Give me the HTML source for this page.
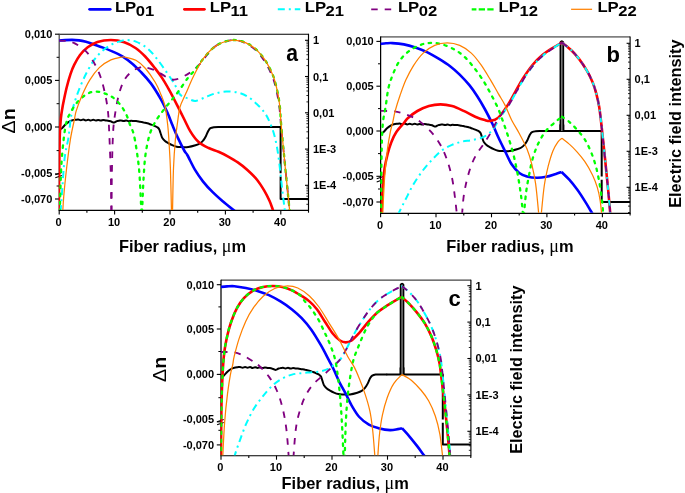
<!DOCTYPE html><html><head><meta charset="utf-8"><title>LP modes</title>
<style>html,body{margin:0;padding:0;background:#fff}svg{display:block}text{font-family:"Liberation Sans",sans-serif;font-weight:bold;fill:#000}</style></head><body>
<svg width="685" height="493" viewBox="0 0 685 493">
<rect width="685" height="493" fill="#fff"/>
<path d="M89.6,9.3H110.2" fill="none" stroke="#0000ff" stroke-width="2.8" stroke-linecap="round"/>
<text transform="translate(114.9,12.3) scale(1.100,1)" font-size="15.2">LP<tspan dy="3.6" dx="-0.5" font-size="15.1">01</tspan></text>
<path d="M184.4,9.3H204.4" fill="none" stroke="#ff0000" stroke-width="2.8" stroke-linecap="round"/>
<text transform="translate(209.7,12.3) scale(1.100,1)" font-size="15.2">LP<tspan dy="3.6" dx="-0.5" font-size="15.1">11</tspan></text>
<path d="M277.8,9.3H300.3" fill="none" stroke="#00ffff" stroke-width="2" stroke-dasharray="7 4 2 4"/>
<text transform="translate(304.8,12.3) scale(1.100,1)" font-size="15.2">LP<tspan dy="3.6" dx="-0.5" font-size="15.1">21</tspan></text>
<path d="M371.2,9.3H392.2" fill="none" stroke="#800080" stroke-width="1.85" stroke-dasharray="6.5 7"/>
<text transform="translate(397.9,12.3) scale(1.100,1)" font-size="15.2">LP<tspan dy="3.6" dx="-0.5" font-size="15.1">02</tspan></text>
<path d="M471.7,9.3H493.6" fill="none" stroke="#00ff00" stroke-width="2.2" stroke-dasharray="6.3 2.3" stroke-dashoffset="1.6"/>
<text transform="translate(498.6,12.3) scale(1.100,1)" font-size="15.2">LP<tspan dy="3.6" dx="-0.5" font-size="15.1">12</tspan></text>
<path d="M571.1,9.3H592.1" fill="none" stroke="#ff8000" stroke-width="1.25"/>
<text transform="translate(597.4,12.3) scale(1.100,1)" font-size="15.2">LP<tspan dy="3.6" dx="-0.5" font-size="15.1">22</tspan></text>
<g stroke="#000" fill="none">
<path d="M59.2,34.2H308.5" stroke="#000" stroke-width="1.1"/>
<path d="M59.2,33.7V210.4" stroke="#4a4a4a" stroke-width="1.25"/>
<path d="M58.6,210.4H308.5V33.7" stroke-width="1.15"/>
<path d="M59.2,34.2h-4.2" stroke-width="1.1"/>
<path d="M59.2,80.4h-4.2" stroke-width="1.1"/>
<path d="M59.2,127.0h-4.2" stroke-width="1.1"/>
<path d="M59.2,173.9h-4.2" stroke-width="1.1"/>
<path d="M59.2,199.0h-4.2" stroke-width="1.1"/>
<path d="M59.2,57.3h-2.6" stroke-width="1"/>
<path d="M59.2,103.7h-2.6" stroke-width="1"/>
<path d="M59.2,150.6h-2.6" stroke-width="1"/>
<path d="M59.2,186.0h-2.6" stroke-width="1"/>
<path d="M59.2,210.4v4.0" stroke-width="1.1"/>
<path d="M86.9,210.4v2.3" stroke-width="1.1"/>
<path d="M114.6,210.4v4.0" stroke-width="1.1"/>
<path d="M142.3,210.4v2.3" stroke-width="1.1"/>
<path d="M170.0,210.4v4.0" stroke-width="1.1"/>
<path d="M197.7,210.4v2.3" stroke-width="1.1"/>
<path d="M225.4,210.4v4.0" stroke-width="1.1"/>
<path d="M253.1,210.4v2.3" stroke-width="1.1"/>
<path d="M280.8,210.4v4.0" stroke-width="1.1"/>
<path d="M308.5,210.4v2.3" stroke-width="1.1"/>
<path d="M308.5,40.3h-3.5" stroke-width="1.1"/>
<path d="M308.5,76.5h-3.5" stroke-width="1.1"/>
<path d="M308.5,112.8h-3.5" stroke-width="1.1"/>
<path d="M308.5,149.1h-3.5" stroke-width="1.1"/>
<path d="M308.5,185.3h-3.5" stroke-width="1.1"/>
<path d="M308.5,65.6h-2.1" stroke-width="0.85"/>
<path d="M308.5,59.3h-2.1" stroke-width="0.85"/>
<path d="M308.5,54.7h-2.1" stroke-width="0.85"/>
<path d="M308.5,51.2h-2.1" stroke-width="0.85"/>
<path d="M308.5,48.3h-2.1" stroke-width="0.85"/>
<path d="M308.5,45.9h-2.1" stroke-width="0.85"/>
<path d="M308.5,43.8h-2.1" stroke-width="0.85"/>
<path d="M308.5,42.0h-2.1" stroke-width="0.85"/>
<path d="M308.5,101.9h-2.1" stroke-width="0.85"/>
<path d="M308.5,95.5h-2.1" stroke-width="0.85"/>
<path d="M308.5,91.0h-2.1" stroke-width="0.85"/>
<path d="M308.5,87.5h-2.1" stroke-width="0.85"/>
<path d="M308.5,84.6h-2.1" stroke-width="0.85"/>
<path d="M308.5,82.2h-2.1" stroke-width="0.85"/>
<path d="M308.5,80.1h-2.1" stroke-width="0.85"/>
<path d="M308.5,78.2h-2.1" stroke-width="0.85"/>
<path d="M308.5,138.1h-2.1" stroke-width="0.85"/>
<path d="M308.5,131.8h-2.1" stroke-width="0.85"/>
<path d="M308.5,127.2h-2.1" stroke-width="0.85"/>
<path d="M308.5,123.7h-2.1" stroke-width="0.85"/>
<path d="M308.5,120.8h-2.1" stroke-width="0.85"/>
<path d="M308.5,118.4h-2.1" stroke-width="0.85"/>
<path d="M308.5,116.3h-2.1" stroke-width="0.85"/>
<path d="M308.5,114.5h-2.1" stroke-width="0.85"/>
<path d="M308.5,174.4h-2.1" stroke-width="0.85"/>
<path d="M308.5,168.0h-2.1" stroke-width="0.85"/>
<path d="M308.5,163.5h-2.1" stroke-width="0.85"/>
<path d="M308.5,160.0h-2.1" stroke-width="0.85"/>
<path d="M308.5,157.1h-2.1" stroke-width="0.85"/>
<path d="M308.5,154.7h-2.1" stroke-width="0.85"/>
<path d="M308.5,152.6h-2.1" stroke-width="0.85"/>
<path d="M308.5,150.7h-2.1" stroke-width="0.85"/>
<path d="M308.5,204.3h-2.1" stroke-width="0.85"/>
<path d="M308.5,199.7h-2.1" stroke-width="0.85"/>
<path d="M308.5,196.2h-2.1" stroke-width="0.85"/>
<path d="M308.5,193.3h-2.1" stroke-width="0.85"/>
<path d="M308.5,190.9h-2.1" stroke-width="0.85"/>
<path d="M308.5,188.8h-2.1" stroke-width="0.85"/>
<path d="M308.5,187.0h-2.1" stroke-width="0.85"/>
<path d="M55.3,174.7l6.6,-2.3M55.3,177.8l6.6,-2.3" stroke-width="1.05"/>
</g>
<clipPath id="ca"><rect x="58.7" y="34.7" width="249.8" height="175.2"/></clipPath>
<g clip-path="url(#ca)" fill="none" stroke-linejoin="round">
<path d="M59.2,129.0C59.7,128.9 60.9,129.0 62.0,128.2C63.0,127.4 64.4,125.4 65.6,124.3C66.8,123.2 68.0,122.3 69.2,121.6C70.3,120.9 71.4,120.6 72.5,120.3C73.6,120.0 74.9,119.9 75.8,119.8C76.8,119.7 77.5,119.5 78.3,119.6C79.1,119.7 80.0,120.3 80.8,120.3C81.6,120.3 82.5,119.6 83.3,119.6C84.1,119.6 85.0,120.4 85.8,120.4C86.6,120.4 87.5,119.7 88.3,119.7C89.1,119.7 89.9,120.5 90.8,120.5C91.6,120.5 92.4,119.8 93.3,119.8C94.1,119.8 94.9,120.5 95.8,120.5C96.6,120.5 97.4,120.0 98.3,120.0C99.1,120.0 99.9,120.5 100.8,120.5C101.6,120.6 102.4,120.1 103.2,120.1C104.1,120.1 105.0,120.4 105.7,120.5C106.5,120.6 107.1,120.6 108.0,120.7C108.8,120.8 110.0,121.1 110.7,121.3C111.5,121.5 111.9,121.9 112.4,122.1C112.9,122.3 113.3,122.6 113.8,122.6C114.2,122.6 114.6,122.2 115.2,122.0C115.7,121.8 116.2,121.3 116.8,121.1C117.5,120.9 118.3,120.8 119.0,120.7C119.8,120.6 120.5,120.3 121.2,120.4C122.0,120.5 122.9,121.1 123.7,121.1C124.6,121.1 125.4,120.4 126.2,120.4C127.1,120.4 127.9,121.1 128.7,121.2C129.6,121.2 130.4,120.7 131.2,120.7C132.1,120.7 132.9,121.0 133.7,121.1C134.5,121.1 135.1,121.0 136.2,121.1C137.3,121.2 138.9,121.6 140.1,121.8C141.3,122.0 142.2,122.2 143.4,122.4C144.6,122.7 146.0,122.9 147.3,123.3C148.6,123.7 150.0,124.2 151.2,124.6C152.4,125.0 153.4,125.4 154.5,125.9C155.5,126.4 156.8,126.9 157.5,127.4C158.3,128.0 158.7,128.3 159.2,129.2C159.7,130.1 160.0,131.6 160.5,133.0C161.0,134.4 161.5,136.5 162.2,137.8C163.0,139.1 164.0,140.1 165.0,141.0C166.0,141.9 167.1,142.5 168.3,143.2C169.5,143.9 170.8,144.6 172.2,145.2C173.6,145.8 175.2,146.4 176.6,146.7C178.1,147.0 179.1,147.0 181.1,147.1C183.0,147.2 185.9,147.3 188.3,147.0C190.7,146.7 193.5,145.9 195.5,145.3C197.4,144.7 198.6,144.3 199.9,143.5C201.2,142.7 202.2,141.8 203.2,140.5C204.3,139.2 205.2,137.6 206.0,136.0C206.8,134.4 207.5,132.3 208.2,131.0C209.0,129.7 209.5,128.8 210.4,128.2C211.4,127.6 212.5,127.4 213.8,127.2C215.1,127.0 216.3,127.0 218.2,127.0C220.1,127.0 224.2,127.0 225.4,127.0" stroke="#000" stroke-width="2"/>
<path d="M225.0,127.0L280.6,127.0L280.6,199.0L310.0,199.0" stroke="#000" stroke-width="2"/>
<path d="M280.6,173.3v3.2" stroke="#fff" stroke-width="3.4"/>
<path d="M59.2,40.5C60.2,40.4 62.9,40.2 65.0,40.1C67.1,40.0 69.7,39.9 72.0,39.9C74.3,39.9 76.7,40.1 79.0,40.4C81.3,40.7 83.6,41.2 86.0,41.8C88.4,42.4 90.7,43.2 93.5,44.2C96.3,45.2 99.8,46.4 103.0,47.6C106.2,48.8 109.6,50.2 112.8,51.6C116.0,53.0 119.2,54.3 122.4,56.3C125.6,58.3 128.8,60.7 132.0,63.4C135.2,66.1 138.2,69.2 141.4,72.5C144.6,75.8 147.7,79.1 150.9,83.4C154.1,87.8 157.7,93.7 160.5,98.6C163.3,103.5 165.5,108.3 167.5,112.8C169.5,117.2 170.8,121.2 172.5,125.3C174.2,129.4 175.8,133.3 177.8,137.6C179.8,141.9 182.9,148.1 184.5,151.0C186.1,153.9 185.5,151.8 187.3,155.0C189.1,158.2 192.6,165.8 195.2,170.2C197.8,174.6 200.2,177.9 203.1,181.6C206.0,185.3 209.5,189.0 212.7,192.2C215.9,195.4 219.0,198.1 222.4,201.0C225.8,203.9 230.1,207.3 233.0,209.6C235.9,211.9 238.8,214.1 240.0,215.0" stroke="#0000ff" stroke-width="2.6"/>
<path d="M58.8,215.0C58.9,207.5 59.0,183.3 59.2,170.0C59.4,156.7 59.5,143.7 59.8,135.0C60.1,126.3 60.4,122.8 60.9,118.0C61.4,113.2 61.8,111.0 62.7,106.0C63.7,101.0 65.3,93.1 66.6,87.8C67.9,82.5 69.1,78.1 70.4,74.3C71.7,70.5 72.7,67.9 74.3,64.7C75.9,61.5 77.8,57.9 80.0,55.0C82.2,52.1 84.8,49.5 87.7,47.3C90.6,45.1 93.5,43.1 97.4,41.9C101.3,40.7 106.4,40.0 110.9,40.0C115.4,40.0 120.1,40.8 124.3,42.2C128.5,43.6 132.4,45.8 135.9,48.2C139.4,50.6 142.1,53.3 145.2,56.5C148.2,59.7 151.4,63.7 154.2,67.2C156.9,70.7 159.2,73.6 161.7,77.4C164.2,81.2 166.8,85.7 169.4,90.3C172.0,94.9 174.6,100.1 177.1,105.1C179.6,110.0 182.4,115.6 184.6,120.0C186.8,124.4 188.2,127.9 190.5,131.6C192.8,135.3 195.6,139.3 198.6,142.0C201.6,144.7 205.4,146.4 208.7,148.0C212.0,149.6 215.2,150.4 218.5,151.8C221.8,153.2 225.0,154.8 228.2,156.6C231.4,158.4 234.6,160.2 237.8,162.4C241.0,164.6 244.2,167.1 247.4,170.0C250.6,172.9 254.1,176.1 257.0,179.7C259.9,183.2 262.6,187.8 264.7,191.3C266.8,194.9 268.2,197.9 269.6,201.0C271.0,204.1 271.9,207.1 272.8,209.6C273.7,212.1 274.6,214.9 275.0,216.0" stroke="#ff0000" stroke-width="2.6"/>
<path d="M60.5,212.0C60.7,209.5 61.0,205.9 61.7,197.0C62.4,188.1 63.5,168.4 64.6,158.5C65.7,148.6 67.4,144.6 68.5,137.3C69.6,130.0 70.1,121.4 71.4,114.7C72.7,108.0 74.1,103.5 76.2,97.4C78.3,91.3 81.0,84.3 83.9,78.2C86.8,72.1 90.3,65.5 93.5,60.8C96.7,56.1 100.0,53.0 103.2,50.2C106.4,47.4 109.9,45.4 112.8,43.9C115.7,42.4 118.2,41.9 120.5,41.2C122.8,40.6 123.7,39.9 126.3,40.0C128.9,40.1 132.4,40.2 135.9,41.6C139.4,43.0 143.9,45.4 147.4,48.3C150.9,51.2 153.8,54.9 157.0,58.9C160.2,62.9 163.8,68.2 166.7,72.4C169.6,76.6 172.2,80.2 174.4,83.9C176.6,87.6 177.8,92.1 180.0,94.5C182.2,96.9 185.1,97.3 187.7,98.4C190.3,99.5 192.5,101.1 195.4,100.9C198.3,100.7 201.8,98.6 205.0,97.4C208.2,96.2 211.2,94.6 214.7,93.6C218.2,92.6 222.3,91.8 226.2,91.6C230.0,91.4 234.3,91.8 237.8,92.6C241.3,93.4 244.2,94.5 247.4,96.4C250.6,98.3 254.1,101.5 257.0,104.2C259.9,106.9 262.6,109.8 264.7,112.8C266.8,115.8 268.0,118.2 269.6,122.0C271.2,125.8 273.0,130.0 274.4,135.4C275.8,140.8 276.9,146.0 278.2,154.7C279.5,163.4 280.9,177.8 282.0,187.4C283.1,197.0 284.5,207.9 285.0,212.0" stroke="#00ffff" stroke-width="2" stroke-dasharray="7 4 2 4"/>
<path d="M59.2,40.6C60.3,40.7 63.5,40.6 66.0,41.0C68.5,41.4 71.0,41.4 74.3,43.1C77.6,44.8 82.6,48.1 85.8,51.2C89.0,54.3 91.1,57.6 93.5,61.8C95.9,66.0 98.4,70.9 100.3,76.2C102.2,81.5 103.7,87.6 105.0,93.6C106.3,99.6 107.2,104.4 108.0,112.0C108.8,119.6 109.0,128.0 109.5,139.0C110.0,150.0 110.6,165.8 110.9,178.0C111.2,190.2 111.2,206.3 111.3,212.0" stroke="#800080" stroke-width="1.85" stroke-dasharray="6.5 7"/>
<path d="M111.6,212.0C111.6,206.3 111.6,190.2 111.8,178.0C112.0,165.8 112.3,149.0 112.8,139.0C113.2,129.0 113.5,125.2 114.5,118.0C115.5,110.8 117.0,101.8 118.6,95.5C120.2,89.2 122.1,84.0 124.3,80.0C126.5,76.0 129.4,73.5 132.0,71.4C134.6,69.3 137.8,68.3 139.7,67.6C141.6,66.9 141.0,66.5 143.6,67.0C146.2,67.5 151.3,68.7 155.2,70.4C159.0,72.1 163.5,75.7 166.7,77.2C169.9,78.8 171.5,79.9 174.4,79.7C177.3,79.5 181.0,77.6 183.9,76.2C186.8,74.8 189.0,73.3 191.6,71.4C194.2,69.5 196.7,67.4 199.3,64.7C201.9,62.0 204.4,58.0 207.0,55.0C209.6,52.0 212.1,48.9 214.7,46.8C217.3,44.7 219.2,43.6 222.4,42.5C225.6,41.4 230.1,39.9 233.9,40.0C237.7,40.1 241.6,41.3 245.2,43.0C248.8,44.7 252.4,47.1 255.7,50.2C259.0,53.3 262.2,57.3 265.0,61.8C267.8,66.3 270.6,71.9 272.6,77.0C274.6,82.1 275.7,87.2 276.8,92.2C277.9,97.2 278.7,101.8 279.4,107.3C280.1,112.8 280.1,115.4 281.0,125.0C281.9,134.6 283.5,150.5 285.0,165.0C286.5,179.5 289.0,204.2 289.8,212.0" stroke="#800080" stroke-width="1.85" stroke-dasharray="6.5 7"/>
<path d="M59.8,212.0C60.0,204.7 60.6,180.2 61.2,168.0C61.9,155.8 62.8,146.7 63.7,139.0C64.6,131.3 65.4,126.4 66.5,122.0C67.6,117.6 68.5,116.2 70.4,112.8C72.3,109.3 75.2,104.5 78.1,101.3C81.0,98.1 84.7,95.2 87.7,93.6C90.8,92.0 93.5,91.6 96.4,91.6C99.3,91.6 102.3,92.6 105.0,93.6C107.7,94.6 110.2,95.5 112.8,97.4C115.4,99.3 118.2,102.1 120.5,105.0C122.8,107.9 124.7,111.4 126.3,114.7C127.9,118.0 128.8,121.5 130.1,125.0C131.4,128.4 132.7,129.8 134.0,135.4C135.3,141.0 136.9,151.4 137.8,158.5C138.8,165.6 139.1,168.9 139.7,177.8C140.3,186.7 141.1,206.3 141.4,212.0" stroke="#00ff00" stroke-width="2.3" stroke-dasharray="2.4 5.6" stroke-linecap="round"/>
<path d="M142.1,212.0C142.3,206.3 143.0,187.4 143.6,177.8C144.2,168.2 144.5,161.8 145.5,154.7C146.5,147.6 147.8,140.8 149.4,135.4C151.0,130.0 152.9,126.1 155.2,122.0C157.4,117.9 160.3,114.4 162.9,110.9C165.5,107.5 168.0,104.5 170.6,101.3C173.2,98.1 175.5,95.4 178.3,91.6C181.2,87.8 184.8,81.9 187.7,78.2C190.5,74.5 192.8,72.7 195.4,69.5C198.0,66.3 200.2,62.4 203.1,58.9C206.0,55.4 209.5,51.0 212.7,48.3C215.9,45.6 218.9,43.9 222.4,42.5C225.9,41.1 230.1,40.0 233.9,40.0C237.8,40.0 241.8,41.0 245.5,42.6C249.2,44.2 252.9,46.5 256.3,49.6C259.7,52.7 263.0,56.7 265.8,61.2C268.6,65.7 271.4,71.4 273.4,76.5C275.3,81.6 276.4,86.7 277.5,91.8C278.6,96.9 279.3,101.5 279.9,107.0C280.5,112.5 280.3,115.3 281.2,125.0C282.1,134.7 283.6,150.5 285.0,165.0C286.4,179.5 289.0,204.2 289.8,212.0" stroke="#00ff00" stroke-width="2.3" stroke-dasharray="2.4 5.6" stroke-linecap="round"/>
<path d="M62.7,212.0C62.9,209.5 63.1,204.3 63.7,197.0C64.3,189.7 65.5,177.8 66.6,168.2C67.7,158.6 69.1,147.3 70.4,139.3C71.7,131.3 73.3,124.7 74.3,120.0C75.3,115.3 74.9,115.0 76.2,110.9C77.5,106.8 79.8,100.6 82.0,95.5C84.2,90.4 86.8,84.8 89.7,80.1C92.6,75.4 95.8,71.0 99.3,67.6C102.8,64.2 107.1,61.7 110.9,59.9C114.8,58.1 120.2,57.5 122.4,57.0C124.6,56.5 122.0,56.5 124.3,57.0C126.5,57.5 132.4,58.4 135.9,60.3C139.4,62.2 142.3,64.8 145.5,68.5C148.7,72.2 152.6,78.0 155.2,82.3C157.8,86.6 159.2,90.3 160.9,94.4C162.6,98.5 164.1,101.9 165.2,107.0C166.3,112.1 167.0,118.7 167.7,125.0C168.4,131.3 168.8,137.8 169.2,145.0C169.6,152.2 170.0,157.0 170.4,168.2C170.8,179.4 171.3,204.7 171.5,212.0" stroke="#ff8000" stroke-width="1.25"/>
<path d="M172.5,212.0C172.7,204.7 173.0,180.3 173.5,168.2C174.0,156.1 174.7,147.0 175.4,139.3C176.1,131.6 176.8,127.4 177.6,122.0C178.4,116.6 178.6,111.7 180.0,107.0C181.4,102.3 183.6,98.7 185.8,93.6C188.1,88.5 190.6,82.0 193.5,76.2C196.4,70.4 199.9,63.5 203.1,58.9C206.3,54.2 209.5,51.0 212.7,48.3C215.9,45.6 218.9,43.9 222.4,42.5C225.9,41.1 230.1,40.0 233.9,40.0C237.8,40.0 241.8,41.0 245.5,42.6C249.2,44.2 252.9,46.5 256.3,49.6C259.7,52.7 263.0,56.7 265.8,61.2C268.6,65.7 271.4,71.4 273.4,76.5C275.3,81.6 276.4,86.7 277.5,91.8C278.6,96.9 279.3,101.5 279.9,107.0C280.5,112.5 280.3,115.3 281.2,125.0C282.1,134.7 283.6,150.5 285.0,165.0C286.4,179.5 289.0,204.2 289.8,212.0" stroke="#ff8000" stroke-width="1.25"/>
</g>
<text transform="translate(52.3,38.1)" font-size="11" text-anchor="end">0,010</text>
<text transform="translate(52.3,84.3)" font-size="11" text-anchor="end">0,005</text>
<text transform="translate(52.3,130.9)" font-size="11" text-anchor="end">0,000</text>
<text transform="translate(52.3,177.1)" font-size="11" text-anchor="end">-0,005</text>
<text transform="translate(52.3,202.9)" font-size="11" text-anchor="end">-0,070</text>
<text transform="translate(58.6,225.7)" font-size="11" text-anchor="middle">0</text>
<text transform="translate(114.0,225.7)" font-size="11" text-anchor="middle">10</text>
<text transform="translate(169.4,225.7)" font-size="11" text-anchor="middle">20</text>
<text transform="translate(224.8,225.7)" font-size="11" text-anchor="middle">30</text>
<text transform="translate(280.2,225.7)" font-size="11" text-anchor="middle">40</text>
<text transform="translate(313.0,44.2)" font-size="11">1</text>
<text transform="translate(313.0,80.5)" font-size="11">0,1</text>
<text transform="translate(313.0,116.7)" font-size="11">0,01</text>
<text transform="translate(313.0,153.0)" font-size="11">1E-3</text>
<text transform="translate(313.0,189.2)" font-size="11">1E-4</text>
<text transform="translate(286.2,60.6) scale(0.920,1)" font-size="23">a</text>
<text transform="translate(118.9,251.7)" font-size="16.4">Fiber radius, <tspan font-family="'Liberation Serif',serif" font-weight="normal" font-size="18">μ</tspan>m</text>
<text transform="translate(14.9,133.5) rotate(-90) scale(1.100,1)" font-size="18"><tspan font-weight="normal">Δ</tspan>n</text>
<g stroke="#000" fill="none">
<path d="M380.6,36.9H630.1" stroke="#808080" stroke-width="1.8"/>
<path d="M380.6,36.4V213.3" stroke="#000" stroke-width="1.25"/>
<path d="M380.0,213.3H630.1V36.4" stroke-width="1.15"/>
<path d="M380.6,41.4h-4.2" stroke-width="1.1"/>
<path d="M380.6,86.2h-4.2" stroke-width="1.1"/>
<path d="M380.6,131.0h-4.2" stroke-width="1.1"/>
<path d="M380.6,176.3h-4.2" stroke-width="1.1"/>
<path d="M380.6,202.0h-4.2" stroke-width="1.1"/>
<path d="M380.6,63.8h-2.6" stroke-width="1"/>
<path d="M380.6,108.6h-2.6" stroke-width="1"/>
<path d="M380.6,153.6h-2.6" stroke-width="1"/>
<path d="M380.6,189.0h-2.6" stroke-width="1"/>
<path d="M380.6,213.3v4.0" stroke-width="1.1"/>
<path d="M408.3,213.3v2.3" stroke-width="1.1"/>
<path d="M436.0,213.3v4.0" stroke-width="1.1"/>
<path d="M463.8,213.3v2.3" stroke-width="1.1"/>
<path d="M491.5,213.3v4.0" stroke-width="1.1"/>
<path d="M519.2,213.3v2.3" stroke-width="1.1"/>
<path d="M546.9,213.3v4.0" stroke-width="1.1"/>
<path d="M574.6,213.3v2.3" stroke-width="1.1"/>
<path d="M602.4,213.3v4.0" stroke-width="1.1"/>
<path d="M630.1,213.3v2.3" stroke-width="1.1"/>
<path d="M630.1,43.3h-3.5" stroke-width="1.1"/>
<path d="M630.1,79.3h-3.5" stroke-width="1.1"/>
<path d="M630.1,115.3h-3.5" stroke-width="1.1"/>
<path d="M630.1,151.3h-3.5" stroke-width="1.1"/>
<path d="M630.1,187.3h-3.5" stroke-width="1.1"/>
<path d="M630.1,68.5h-2.1" stroke-width="0.85"/>
<path d="M630.1,62.1h-2.1" stroke-width="0.85"/>
<path d="M630.1,57.6h-2.1" stroke-width="0.85"/>
<path d="M630.1,54.1h-2.1" stroke-width="0.85"/>
<path d="M630.1,51.3h-2.1" stroke-width="0.85"/>
<path d="M630.1,48.9h-2.1" stroke-width="0.85"/>
<path d="M630.1,46.8h-2.1" stroke-width="0.85"/>
<path d="M630.1,44.9h-2.1" stroke-width="0.85"/>
<path d="M630.1,104.5h-2.1" stroke-width="0.85"/>
<path d="M630.1,98.1h-2.1" stroke-width="0.85"/>
<path d="M630.1,93.6h-2.1" stroke-width="0.85"/>
<path d="M630.1,90.1h-2.1" stroke-width="0.85"/>
<path d="M630.1,87.3h-2.1" stroke-width="0.85"/>
<path d="M630.1,84.9h-2.1" stroke-width="0.85"/>
<path d="M630.1,82.8h-2.1" stroke-width="0.85"/>
<path d="M630.1,80.9h-2.1" stroke-width="0.85"/>
<path d="M630.1,140.5h-2.1" stroke-width="0.85"/>
<path d="M630.1,134.1h-2.1" stroke-width="0.85"/>
<path d="M630.1,129.6h-2.1" stroke-width="0.85"/>
<path d="M630.1,126.1h-2.1" stroke-width="0.85"/>
<path d="M630.1,123.3h-2.1" stroke-width="0.85"/>
<path d="M630.1,120.9h-2.1" stroke-width="0.85"/>
<path d="M630.1,118.8h-2.1" stroke-width="0.85"/>
<path d="M630.1,116.9h-2.1" stroke-width="0.85"/>
<path d="M630.1,176.5h-2.1" stroke-width="0.85"/>
<path d="M630.1,170.1h-2.1" stroke-width="0.85"/>
<path d="M630.1,165.6h-2.1" stroke-width="0.85"/>
<path d="M630.1,162.1h-2.1" stroke-width="0.85"/>
<path d="M630.1,159.3h-2.1" stroke-width="0.85"/>
<path d="M630.1,156.9h-2.1" stroke-width="0.85"/>
<path d="M630.1,154.8h-2.1" stroke-width="0.85"/>
<path d="M630.1,152.9h-2.1" stroke-width="0.85"/>
<path d="M630.1,212.5h-2.1" stroke-width="0.85"/>
<path d="M630.1,206.1h-2.1" stroke-width="0.85"/>
<path d="M630.1,201.6h-2.1" stroke-width="0.85"/>
<path d="M630.1,198.1h-2.1" stroke-width="0.85"/>
<path d="M630.1,195.3h-2.1" stroke-width="0.85"/>
<path d="M630.1,192.9h-2.1" stroke-width="0.85"/>
<path d="M630.1,190.8h-2.1" stroke-width="0.85"/>
<path d="M630.1,188.9h-2.1" stroke-width="0.85"/>
<path d="M376.7,178.8l6.6,-2.3M376.7,181.9l6.6,-2.3" stroke-width="1.05"/>
</g>
<clipPath id="cb"><rect x="380.1" y="37.4" width="250.0" height="175.4"/></clipPath>
<g clip-path="url(#cb)" fill="none" stroke-linejoin="round">
<path d="M380.6,133.0C381.1,132.9 382.3,133.0 383.4,132.2C384.4,131.4 385.8,129.4 387.0,128.3C388.2,127.2 389.4,126.3 390.6,125.6C391.7,124.9 392.8,124.6 393.9,124.3C395.0,124.0 396.3,123.9 397.2,123.8C398.2,123.7 398.9,123.5 399.7,123.6C400.6,123.7 401.4,124.3 402.2,124.3C403.1,124.3 403.9,123.6 404.7,123.6C405.5,123.6 406.4,124.4 407.2,124.4C408.0,124.4 408.9,123.7 409.7,123.7C410.5,123.7 411.4,124.5 412.2,124.5C413.0,124.5 413.9,123.8 414.7,123.8C415.5,123.8 416.4,124.5 417.2,124.5C418.0,124.5 418.9,124.0 419.7,124.0C420.5,124.0 421.3,124.5 422.2,124.5C423.0,124.6 423.8,124.1 424.7,124.1C425.5,124.1 426.4,124.4 427.2,124.5C428.0,124.6 428.6,124.6 429.4,124.7C430.2,124.8 431.4,125.1 432.2,125.3C432.9,125.5 433.3,125.9 433.8,126.1C434.3,126.3 434.7,126.6 435.2,126.6C435.7,126.6 436.1,126.2 436.6,126.0C437.1,125.8 437.6,125.3 438.3,125.1C438.9,124.9 439.7,124.8 440.5,124.7C441.2,124.6 441.9,124.3 442.7,124.4C443.5,124.5 444.4,125.1 445.2,125.1C446.0,125.1 446.9,124.4 447.7,124.4C448.5,124.4 449.3,125.1 450.2,125.2C451.0,125.2 451.8,124.7 452.7,124.7C453.5,124.7 454.3,125.0 455.2,125.1C456.0,125.1 456.6,125.0 457.7,125.1C458.7,125.2 460.3,125.6 461.5,125.8C462.7,126.0 463.7,126.2 464.9,126.4C466.1,126.7 467.5,126.9 468.7,127.3C470.0,127.7 471.4,128.2 472.6,128.6C473.8,129.0 474.9,129.4 476.0,129.9C477.0,130.4 478.2,130.9 479.0,131.4C479.8,131.9 480.2,132.3 480.7,133.2C481.2,134.1 481.4,135.6 481.9,137.0C482.5,138.4 483.0,140.5 483.7,141.8C484.5,143.1 485.5,144.1 486.5,145.0C487.5,145.9 488.6,146.5 489.8,147.2C491.0,147.9 492.3,148.6 493.7,149.2C495.1,149.8 496.7,150.4 498.1,150.7C499.6,151.0 500.6,151.0 502.6,151.1C504.5,151.2 507.4,151.3 509.8,151.0C512.2,150.7 515.0,149.9 517.0,149.3C518.9,148.7 520.1,148.3 521.4,147.5C522.7,146.7 523.7,145.8 524.7,144.5C525.8,143.2 526.7,141.6 527.5,140.0C528.3,138.4 529.0,136.3 529.7,135.0C530.5,133.7 531.0,132.8 532.0,132.2C532.9,131.6 534.0,131.3 535.3,131.2C536.6,131.0 537.8,131.0 539.7,131.0C541.7,131.0 545.7,131.0 546.9,131.0" stroke="#000" stroke-width="2"/>
<path d="M546.5,131.0L560.4,131.0L560.4,125.0L560.4,131.0L563.3,131.0L563.3,125.0L563.3,131.0L601.7,131.0L601.7,201.9L632.0,201.9" stroke="#000" stroke-width="2"/>
<path d="M560.4,131.0V41.0H563.3V131.0Z" fill="#9a9a9a" stroke="none"/>
<path d="M560.4,131.0V42.2Q561.8,39.8 563.3,42.2V131.0" stroke="#000" stroke-width="1.7"/>
<path d="M601.7,176.6v3.2" stroke="#fff" stroke-width="3.4"/>
<path d="M380.6,43.9C381.5,43.8 384.1,43.4 386.0,43.3C387.9,43.2 389.3,42.9 392.3,43.1C395.3,43.3 400.0,43.7 403.9,44.4C407.8,45.1 411.5,46.2 415.4,47.5C419.2,48.8 423.1,50.3 427.0,52.2C430.9,54.1 434.8,56.4 438.6,58.7C442.5,61.1 446.6,63.6 450.1,66.3C453.6,69.0 456.5,71.5 459.7,74.7C462.9,77.9 466.5,81.7 469.4,85.2C472.3,88.8 474.5,92.0 477.1,96.0C479.7,100.0 482.2,104.3 484.8,109.0C487.4,113.7 490.2,119.3 492.5,124.0C494.8,128.7 496.1,132.5 498.3,137.3C500.5,142.1 503.6,148.2 505.8,152.7C508.0,157.2 509.4,160.9 511.6,164.3C513.9,167.7 516.7,171.0 519.3,173.0C521.9,175.0 524.1,175.6 527.0,176.4C529.9,177.2 533.4,177.7 536.6,177.8C539.8,177.9 543.0,177.5 546.2,176.8C549.4,176.2 553.3,174.7 555.9,173.9C558.5,173.1 560.6,172.3 561.6,172.0" stroke="#0000ff" stroke-width="2.6"/>
<path d="M561.6,172.0C562.9,173.3 566.7,176.8 569.3,179.7C571.9,182.6 574.4,185.8 577.0,189.3C579.6,192.8 582.5,197.4 584.7,200.9C587.0,204.4 589.0,208.0 590.5,210.5C592.0,213.0 593.4,215.1 594.0,216.0" stroke="#0000ff" stroke-width="2.6"/>
<path d="M381.5,215.0C381.7,210.4 382.2,195.2 382.7,187.4C383.2,179.6 383.8,173.7 384.6,168.2C385.4,162.7 386.4,158.9 387.5,154.5C388.6,150.1 389.9,145.7 391.4,142.0C392.8,138.3 394.1,135.5 396.2,132.3C398.3,129.1 402.0,125.3 403.9,123.0C405.8,120.7 405.4,120.3 407.7,118.3C409.9,116.3 413.9,113.0 417.4,111.0C420.9,109.0 425.0,107.1 428.9,106.0C432.8,104.9 436.6,104.4 440.5,104.4C444.4,104.4 448.1,105.0 452.0,106.1C455.9,107.2 459.7,109.1 463.6,110.9C467.5,112.7 471.7,115.2 475.2,116.7C478.7,118.2 482.2,119.4 484.8,120.1C487.4,120.8 488.4,121.3 490.6,120.9C492.9,120.5 495.5,120.2 498.3,117.6C501.1,115.0 504.9,109.4 507.7,105.1C510.5,100.8 512.8,96.1 515.4,91.6C518.0,87.1 520.2,82.7 523.1,78.2C526.0,73.7 529.5,68.6 532.7,64.7C535.9,60.8 539.2,57.7 542.4,55.0C545.6,52.3 548.7,50.4 552.0,48.3C555.3,46.2 560.3,43.5 562.0,42.5" stroke="#ff0000" stroke-width="2.6"/>
<path d="M562.0,42.5C563.5,43.8 568.5,47.5 571.3,50.2C574.1,52.9 576.4,55.5 579.0,58.9C581.6,62.3 584.5,66.6 586.7,70.4C589.0,74.2 590.9,78.1 592.5,82.0C594.1,85.9 595.2,89.4 596.3,93.6C597.4,97.8 598.4,102.3 599.2,107.0C600.0,111.7 600.1,113.4 601.1,122.0C602.1,130.6 603.9,147.6 605.0,158.5C606.1,169.4 607.0,178.0 607.9,187.4C608.8,196.8 610.0,210.4 610.4,215.0" stroke="#ff0000" stroke-width="2.6"/>
<path d="M398.0,215.0C398.3,214.2 398.7,213.2 400.0,210.5C401.3,207.8 403.6,203.4 405.8,199.0C408.1,194.6 410.6,189.0 413.5,184.2C416.4,179.4 420.0,174.2 423.2,170.0C426.4,165.8 429.6,162.3 432.8,159.0C436.0,155.7 439.2,152.3 442.4,150.0C445.6,147.7 448.8,146.3 452.0,144.9C455.2,143.5 458.5,142.5 461.7,141.7C464.9,140.9 468.1,140.8 471.3,140.2C474.5,139.6 478.3,138.9 480.9,138.0C483.5,137.1 485.2,136.2 487.0,135.0C488.8,133.8 490.1,132.6 491.5,131.0C492.9,129.4 494.2,127.6 495.5,125.5C496.8,123.4 497.3,121.7 499.5,118.3C501.7,114.9 505.8,109.7 508.6,105.3C511.4,100.9 513.7,96.4 516.3,91.9C518.9,87.4 521.1,83.0 524.0,78.5C526.9,74.0 530.3,68.9 533.5,65.1C536.7,61.3 539.9,58.2 543.0,55.5C546.1,52.8 549.2,50.9 552.4,48.7C555.6,46.5 560.4,43.5 562.0,42.5" stroke="#00ffff" stroke-width="2" stroke-dasharray="7 4 2 4"/>
<path d="M562.0,42.5C563.5,43.8 568.5,47.5 571.3,50.2C574.1,52.9 576.4,55.5 579.0,58.9C581.6,62.3 584.5,66.6 586.7,70.4C589.0,74.2 590.9,78.1 592.5,82.0C594.1,85.9 595.2,89.4 596.3,93.6C597.4,97.8 598.4,102.3 599.2,107.0C600.0,111.7 600.1,113.4 601.1,122.0C602.1,130.6 603.9,147.6 605.0,158.5C606.1,169.4 607.0,178.0 607.9,187.4C608.8,196.8 610.0,210.4 610.4,215.0" stroke="#00ffff" stroke-width="2" stroke-dasharray="7 4 2 4"/>
<path d="M380.6,110.9C382.9,111.0 390.4,110.8 394.3,111.3C398.2,111.8 400.7,112.8 403.9,113.8C407.1,114.8 410.8,116.2 413.5,117.6C416.2,118.9 417.4,119.6 420.3,121.9C423.2,124.2 427.5,127.8 430.9,131.6C434.3,135.4 437.8,140.2 440.5,145.0C443.2,149.8 445.3,154.9 447.2,160.4C449.1,165.9 450.7,171.7 452.0,177.8C453.3,183.9 454.1,190.8 454.9,197.0C455.7,203.2 456.6,212.0 457.0,215.0" stroke="#800080" stroke-width="1.85" stroke-dasharray="6.5 7"/>
<path d="M462.0,215.0C462.3,212.0 462.9,202.6 463.6,197.0C464.4,191.4 465.4,186.4 466.5,181.6C467.6,176.8 468.9,172.4 470.3,168.2C471.8,164.0 473.1,160.5 475.2,156.6C477.3,152.7 480.3,148.9 482.9,145.0C485.5,141.1 488.0,137.4 490.6,133.0C493.2,128.6 495.3,123.1 498.3,118.5C501.3,113.9 505.6,109.7 508.6,105.3C511.6,100.9 513.7,96.4 516.3,91.9C518.9,87.4 521.1,83.0 524.0,78.5C526.9,74.0 530.3,68.9 533.5,65.1C536.7,61.3 539.9,58.2 543.0,55.5C546.1,52.8 549.2,50.9 552.4,48.7C555.6,46.5 560.4,43.5 562.0,42.5" stroke="#800080" stroke-width="1.85" stroke-dasharray="6.5 7"/>
<path d="M562.0,42.5C563.5,43.8 568.5,47.5 571.3,50.2C574.1,52.9 576.4,55.5 579.0,58.9C581.6,62.3 584.5,66.6 586.7,70.4C589.0,74.2 590.9,78.1 592.5,82.0C594.1,85.9 595.2,89.4 596.3,93.6C597.4,97.8 598.4,102.3 599.2,107.0C600.0,111.7 600.1,113.4 601.1,122.0C602.1,130.6 603.9,147.6 605.0,158.5C606.1,169.4 607.0,178.0 607.9,187.4C608.8,196.8 610.0,210.4 610.4,215.0" stroke="#800080" stroke-width="1.85" stroke-dasharray="6.5 7"/>
<path d="M381.2,215.0C381.2,205.6 381.2,173.5 381.5,158.5C381.8,143.5 382.0,133.6 382.7,125.0C383.4,116.4 384.6,113.2 385.6,107.0C386.6,100.8 387.2,93.4 388.5,87.8C389.8,82.2 391.4,78.0 393.3,73.4C395.2,68.8 397.3,64.1 400.0,60.3C402.7,56.5 406.2,53.2 409.7,50.6C413.2,48.0 417.7,46.0 421.2,44.7C424.7,43.4 427.4,43.0 430.9,42.9C434.4,42.8 438.5,43.3 442.4,44.4C446.2,45.5 450.5,47.4 454.0,49.3C457.5,51.2 460.4,53.1 463.6,56.0C466.8,58.9 470.0,62.6 473.2,66.6C476.4,70.6 480.0,75.6 482.9,80.1C485.8,84.6 488.0,88.8 490.6,93.6C493.2,98.4 496.1,103.9 498.3,109.0C500.5,114.1 502.0,118.6 503.9,124.0C505.8,129.4 507.9,135.4 509.6,141.2C511.4,146.9 513.0,152.4 514.4,158.5C515.8,164.6 517.2,171.4 518.3,177.8C519.4,184.2 520.4,190.8 521.2,197.0C522.0,203.2 522.7,212.0 523.0,215.0" stroke="#00ff00" stroke-width="2.3" stroke-dasharray="2.4 5.6" stroke-linecap="round"/>
<path d="M523.9,215.0C524.2,211.4 525.2,199.7 526.0,193.2C526.8,186.7 527.8,181.7 528.9,175.9C530.0,170.1 531.1,164.0 532.7,158.5C534.3,153.0 536.2,147.8 538.5,143.1C540.8,138.4 543.3,134.2 546.2,130.6C549.1,127.0 553.3,123.8 555.9,121.5C558.5,119.2 561.0,117.5 562.0,116.7" stroke="#00ff00" stroke-width="2.3" stroke-dasharray="2.4 5.6" stroke-linecap="round"/>
<path d="M562.0,116.7C563.2,117.6 566.8,119.8 569.3,121.9C571.8,124.1 574.4,126.7 577.0,129.6C579.6,132.5 582.5,135.8 584.7,139.3C587.0,142.8 588.7,146.6 590.5,150.8C592.3,155.0 593.8,159.2 595.3,164.3C596.8,169.4 598.1,175.5 599.2,181.6C600.3,187.7 601.4,195.3 602.1,200.9C602.8,206.5 603.0,212.7 603.2,215.0" stroke="#00ff00" stroke-width="2.3" stroke-dasharray="2.4 5.6" stroke-linecap="round"/>
<path d="M382.7,215.0C383.0,208.8 383.8,188.8 384.6,177.8C385.4,166.8 386.5,156.6 387.5,148.9C388.5,141.2 389.5,136.1 390.4,131.6C391.3,127.1 392.0,125.5 392.8,122.0C393.6,118.5 394.0,115.3 395.2,110.9C396.4,106.5 398.2,100.6 400.0,95.5C401.8,90.4 403.6,85.1 405.8,80.1C408.1,75.1 410.6,70.1 413.5,65.6C416.4,61.1 419.7,56.5 423.2,53.1C426.7,49.7 430.7,47.1 434.7,45.4C438.7,43.7 443.0,42.9 447.2,42.9C451.4,42.9 455.7,43.7 459.7,45.4C463.7,47.1 467.8,49.9 471.3,53.1C474.8,56.3 477.7,60.2 480.9,64.7C484.1,69.2 487.7,75.3 490.6,80.1C493.5,84.9 495.9,89.4 498.3,93.6C500.7,97.8 502.8,100.7 505.0,105.1C507.2,109.5 509.2,115.3 511.6,120.0C514.0,124.7 516.7,128.7 519.3,133.5C521.9,138.3 524.9,143.8 527.0,148.9C529.1,154.0 530.4,158.5 531.8,164.3C533.2,170.1 534.4,175.2 535.6,183.6C536.8,192.0 538.3,209.8 538.8,215.0" stroke="#ff8000" stroke-width="1.25"/>
<path d="M541.2,215.0C541.7,210.1 543.1,193.6 544.3,185.5C545.5,177.4 546.8,172.0 548.2,166.2C549.7,160.4 551.4,154.8 553.0,150.8C554.6,146.8 556.3,144.2 557.8,142.1C559.3,140.0 561.3,138.9 562.0,138.3" stroke="#ff8000" stroke-width="1.25"/>
<path d="M562.0,138.3C563.2,139.3 566.8,141.8 569.3,144.1C571.8,146.3 574.4,148.9 577.0,151.8C579.6,154.7 582.1,157.6 584.7,161.4C587.3,165.2 590.4,170.6 592.5,174.9C594.6,179.2 596.0,183.1 597.3,187.4C598.6,191.7 599.5,196.3 600.2,200.9C600.9,205.5 601.5,212.7 601.7,215.0" stroke="#ff8000" stroke-width="1.25"/>
</g>
<text transform="translate(373.7,45.3)" font-size="11" text-anchor="end">0,010</text>
<text transform="translate(373.7,90.1)" font-size="11" text-anchor="end">0,005</text>
<text transform="translate(373.7,134.9)" font-size="11" text-anchor="end">0,000</text>
<text transform="translate(373.7,179.7)" font-size="11" text-anchor="end">-0,005</text>
<text transform="translate(373.7,205.9)" font-size="11" text-anchor="end">-0,070</text>
<text transform="translate(380.0,228.6)" font-size="11" text-anchor="middle">0</text>
<text transform="translate(435.4,228.6)" font-size="11" text-anchor="middle">10</text>
<text transform="translate(490.9,228.6)" font-size="11" text-anchor="middle">20</text>
<text transform="translate(546.3,228.6)" font-size="11" text-anchor="middle">30</text>
<text transform="translate(601.8,228.6)" font-size="11" text-anchor="middle">40</text>
<text transform="translate(634.6,47.2)" font-size="11">1</text>
<text transform="translate(634.6,83.2)" font-size="11">0,1</text>
<text transform="translate(634.6,119.2)" font-size="11">0,01</text>
<text transform="translate(634.6,155.2)" font-size="11">1E-3</text>
<text transform="translate(634.6,191.2)" font-size="11">1E-4</text>
<text transform="translate(606.5,61.6)" font-size="22">b</text>
<text transform="translate(446.3,251.7)" font-size="16.4">Fiber radius, <tspan font-family="'Liberation Serif',serif" font-weight="normal" font-size="18">μ</tspan>m</text>
<text transform="translate(680.6,123.7) rotate(-90)" font-size="16.3" text-anchor="middle">Electric field intensity</text>
<g stroke="#000" fill="none">
<path d="M221.0,280.2H470.9" stroke="#444" stroke-width="1.2"/>
<path d="M221.0,279.7V455.7" stroke="#000" stroke-width="1.25"/>
<path d="M220.4,455.7H470.9V279.7" stroke-width="1.15"/>
<path d="M221.0,284.7h-4.2" stroke-width="1.1"/>
<path d="M221.0,329.0h-4.2" stroke-width="1.1"/>
<path d="M221.0,374.4h-4.2" stroke-width="1.1"/>
<path d="M221.0,421.8h-4.2" stroke-width="1.1"/>
<path d="M221.0,444.9h-4.2" stroke-width="1.1"/>
<path d="M221.0,306.9h-2.6" stroke-width="1"/>
<path d="M221.0,351.5h-2.6" stroke-width="1"/>
<path d="M221.0,397.7h-2.6" stroke-width="1"/>
<path d="M221.0,430.3h-2.6" stroke-width="1"/>
<path d="M221.0,455.7v4.0" stroke-width="1.1"/>
<path d="M248.8,455.7v2.3" stroke-width="1.1"/>
<path d="M276.5,455.7v4.0" stroke-width="1.1"/>
<path d="M304.2,455.7v2.3" stroke-width="1.1"/>
<path d="M332.0,455.7v4.0" stroke-width="1.1"/>
<path d="M359.8,455.7v2.3" stroke-width="1.1"/>
<path d="M387.5,455.7v4.0" stroke-width="1.1"/>
<path d="M415.2,455.7v2.3" stroke-width="1.1"/>
<path d="M443.0,455.7v4.0" stroke-width="1.1"/>
<path d="M470.8,455.7v2.3" stroke-width="1.1"/>
<path d="M470.9,285.7h-3.5" stroke-width="1.1"/>
<path d="M470.9,322.1h-3.5" stroke-width="1.1"/>
<path d="M470.9,358.5h-3.5" stroke-width="1.1"/>
<path d="M470.9,394.9h-3.5" stroke-width="1.1"/>
<path d="M470.9,431.3h-3.5" stroke-width="1.1"/>
<path d="M470.9,311.1h-2.1" stroke-width="0.85"/>
<path d="M470.9,304.7h-2.1" stroke-width="0.85"/>
<path d="M470.9,300.2h-2.1" stroke-width="0.85"/>
<path d="M470.9,296.7h-2.1" stroke-width="0.85"/>
<path d="M470.9,293.8h-2.1" stroke-width="0.85"/>
<path d="M470.9,291.3h-2.1" stroke-width="0.85"/>
<path d="M470.9,289.2h-2.1" stroke-width="0.85"/>
<path d="M470.9,287.4h-2.1" stroke-width="0.85"/>
<path d="M470.9,347.5h-2.1" stroke-width="0.85"/>
<path d="M470.9,341.1h-2.1" stroke-width="0.85"/>
<path d="M470.9,336.6h-2.1" stroke-width="0.85"/>
<path d="M470.9,333.1h-2.1" stroke-width="0.85"/>
<path d="M470.9,330.2h-2.1" stroke-width="0.85"/>
<path d="M470.9,327.7h-2.1" stroke-width="0.85"/>
<path d="M470.9,325.6h-2.1" stroke-width="0.85"/>
<path d="M470.9,323.8h-2.1" stroke-width="0.85"/>
<path d="M470.9,383.9h-2.1" stroke-width="0.85"/>
<path d="M470.9,377.5h-2.1" stroke-width="0.85"/>
<path d="M470.9,373.0h-2.1" stroke-width="0.85"/>
<path d="M470.9,369.5h-2.1" stroke-width="0.85"/>
<path d="M470.9,366.6h-2.1" stroke-width="0.85"/>
<path d="M470.9,364.1h-2.1" stroke-width="0.85"/>
<path d="M470.9,362.0h-2.1" stroke-width="0.85"/>
<path d="M470.9,360.2h-2.1" stroke-width="0.85"/>
<path d="M470.9,420.3h-2.1" stroke-width="0.85"/>
<path d="M470.9,413.9h-2.1" stroke-width="0.85"/>
<path d="M470.9,409.4h-2.1" stroke-width="0.85"/>
<path d="M470.9,405.9h-2.1" stroke-width="0.85"/>
<path d="M470.9,403.0h-2.1" stroke-width="0.85"/>
<path d="M470.9,400.5h-2.1" stroke-width="0.85"/>
<path d="M470.9,398.4h-2.1" stroke-width="0.85"/>
<path d="M470.9,396.6h-2.1" stroke-width="0.85"/>
<path d="M470.9,450.3h-2.1" stroke-width="0.85"/>
<path d="M470.9,445.8h-2.1" stroke-width="0.85"/>
<path d="M470.9,442.3h-2.1" stroke-width="0.85"/>
<path d="M470.9,439.4h-2.1" stroke-width="0.85"/>
<path d="M470.9,436.9h-2.1" stroke-width="0.85"/>
<path d="M470.9,434.8h-2.1" stroke-width="0.85"/>
<path d="M470.9,433.0h-2.1" stroke-width="0.85"/>
<path d="M217.1,421.7l6.6,-2.3M217.1,424.8l6.6,-2.3" stroke-width="1.05"/>
</g>
<clipPath id="cc"><rect x="220.5" y="280.7" width="250.4" height="174.5"/></clipPath>
<g clip-path="url(#cc)" fill="none" stroke-linejoin="round">
<path d="M221.0,376.4C221.5,376.3 222.7,376.4 223.8,375.6C224.8,374.8 226.2,372.8 227.4,371.7C228.6,370.6 229.8,369.7 231.0,369.0C232.1,368.3 233.2,368.0 234.3,367.7C235.4,367.4 236.7,367.3 237.6,367.2C238.6,367.1 239.3,366.9 240.1,367.0C240.9,367.1 241.8,367.7 242.6,367.7C243.4,367.7 244.3,367.0 245.1,367.0C245.9,367.0 246.8,367.8 247.6,367.8C248.4,367.8 249.3,367.1 250.1,367.1C250.9,367.1 251.7,367.9 252.6,367.9C253.4,367.9 254.2,367.2 255.1,367.2C255.9,367.2 256.7,367.9 257.6,367.9C258.4,367.9 259.2,367.4 260.1,367.4C260.9,367.4 261.7,367.9 262.6,367.9C263.4,368.0 264.2,367.5 265.0,367.5C265.9,367.5 266.8,367.8 267.5,367.9C268.3,368.0 268.9,368.0 269.8,368.1C270.6,368.2 271.8,368.5 272.5,368.7C273.3,368.9 273.7,369.3 274.2,369.5C274.7,369.7 275.1,370.0 275.6,370.0C276.0,370.0 276.4,369.6 277.0,369.4C277.5,369.1 278.0,368.7 278.6,368.5C279.3,368.3 280.1,368.2 280.8,368.1C281.6,368.0 282.3,367.7 283.0,367.8C283.8,367.9 284.7,368.5 285.5,368.5C286.4,368.5 287.2,367.8 288.0,367.8C288.9,367.8 289.7,368.5 290.5,368.6C291.4,368.6 292.2,368.1 293.0,368.1C293.9,368.1 294.7,368.4 295.5,368.5C296.3,368.5 296.9,368.4 298.0,368.5C299.1,368.6 300.7,369.0 301.9,369.2C303.1,369.4 304.0,369.5 305.2,369.8C306.4,370.0 307.8,370.3 309.1,370.7C310.4,371.1 311.8,371.6 313.0,372.0C314.2,372.4 315.2,372.8 316.3,373.3C317.3,373.8 318.6,374.2 319.3,374.8C320.1,375.3 320.5,375.7 321.0,376.6C321.5,377.5 321.8,379.0 322.3,380.4C322.8,381.8 323.3,383.9 324.0,385.2C324.8,386.5 325.8,387.5 326.8,388.4C327.8,389.3 328.9,389.9 330.1,390.6C331.3,391.3 332.6,392.0 334.0,392.6C335.4,393.2 337.0,393.8 338.4,394.1C339.9,394.4 340.9,394.4 342.9,394.5C344.8,394.6 347.7,394.7 350.1,394.4C352.5,394.1 355.3,393.3 357.3,392.7C359.2,392.1 360.4,391.7 361.7,390.9C363.0,390.1 364.0,389.1 365.0,387.9C366.1,386.6 367.0,385.0 367.8,383.4C368.6,381.8 369.3,379.7 370.0,378.4C370.8,377.1 371.3,376.2 372.2,375.6C373.2,375.0 374.3,374.7 375.6,374.5C376.9,374.3 378.1,374.4 380.0,374.4C381.9,374.4 386.0,374.4 387.2,374.4" stroke="#000" stroke-width="2"/>
<path d="M386.5,374.4L400.6,374.4L400.6,368.0L400.6,374.4L403.5,374.4L403.5,368.0L403.5,374.4L442.8,374.4L442.8,444.5L473.0,444.5" stroke="#000" stroke-width="2"/>
<path d="M400.6,374.4V283.5H403.5V374.4Z" fill="#9a9a9a" stroke="none"/>
<path d="M400.6,374.4V284.7Q402.1,282.3 403.5,284.7V374.4" stroke="#000" stroke-width="1.7"/>
<path d="M442.8,419.6v3.2" stroke="#fff" stroke-width="3.4"/>
<path d="M221.0,286.9C222.0,286.8 224.8,286.5 227.0,286.4C229.2,286.3 231.2,285.9 234.3,286.2C237.4,286.5 242.0,287.3 245.8,288.1C249.7,288.9 253.5,289.7 257.4,290.9C261.2,292.1 265.0,293.4 268.9,295.1C272.8,296.9 276.6,299.0 280.5,301.4C284.4,303.8 288.5,306.6 292.0,309.4C295.5,312.2 298.5,314.8 301.7,318.2C304.9,321.6 308.1,325.2 311.3,329.7C314.5,334.2 318.0,340.2 320.9,345.2C323.8,350.2 326.5,355.7 328.6,359.7C330.7,363.7 331.6,365.1 333.5,369.0C335.4,372.9 337.9,379.2 340.0,383.3C342.1,387.4 343.9,390.2 345.8,393.9C347.7,397.6 349.4,401.5 351.6,405.4C353.9,409.2 356.4,413.8 359.3,417.0C362.2,420.2 365.7,422.8 368.9,424.7C372.1,426.6 375.0,427.3 378.5,428.2C382.0,429.1 386.9,430.0 390.1,430.1C393.3,430.2 395.8,429.4 397.8,429.1C399.8,428.8 401.3,428.4 402.0,428.2" stroke="#0000ff" stroke-width="2.6"/>
<path d="M402.0,428.2C403.2,429.6 406.8,433.4 409.3,436.3C411.8,439.2 414.6,442.8 417.0,445.9C419.4,449.0 422.1,452.8 423.8,455.1C425.5,457.5 426.5,459.2 427.0,460.0" stroke="#0000ff" stroke-width="2.6"/>
<path d="M221.0,458.0C221.1,448.9 221.2,417.2 221.5,403.5C221.8,389.8 222.1,384.4 222.5,376.0C222.9,367.6 223.4,359.9 224.2,353.0C225.0,346.1 226.3,340.0 227.5,334.7C228.7,329.4 229.8,325.7 231.4,321.2C233.0,316.7 235.1,311.5 237.2,307.7C239.3,303.9 241.2,301.0 243.9,298.1C246.6,295.2 250.3,292.3 253.5,290.4C256.7,288.5 260.0,287.6 263.2,286.9C266.4,286.2 269.6,286.0 272.8,286.0C276.0,286.0 279.2,286.2 282.4,286.9C285.6,287.6 288.8,288.9 292.0,290.4C295.2,291.9 298.8,294.2 301.7,296.0C304.6,297.8 306.8,299.1 309.4,301.4C312.0,303.6 314.5,306.1 317.1,309.5C319.7,312.9 322.2,317.6 324.8,321.5C327.4,325.4 330.0,330.0 332.5,333.2C335.0,336.4 337.8,339.0 340.0,340.5C342.2,342.0 343.9,342.4 345.8,342.4C347.7,342.4 349.4,342.1 351.6,340.5C353.9,338.9 356.4,336.0 359.3,332.8C362.2,329.6 365.7,324.7 368.9,321.2C372.1,317.7 375.3,314.3 378.5,311.6C381.7,308.9 385.0,307.0 388.2,304.9C391.4,302.8 395.5,300.4 397.8,299.1C400.1,297.8 401.3,297.4 402.0,297.1" stroke="#ff0000" stroke-width="2.6"/>
<path d="M402.0,297.1C403.2,298.2 406.8,301.3 409.3,303.9C411.8,306.5 414.4,309.4 417.0,312.6C419.6,315.8 422.3,319.2 424.7,323.2C427.1,327.2 429.6,332.1 431.5,336.6C433.4,341.1 435.0,345.9 436.3,350.1C437.6,354.3 438.5,358.4 439.2,361.7C439.9,365.0 439.6,363.0 440.5,370.0C441.4,377.0 443.3,393.1 444.5,403.5C445.7,413.9 446.6,423.3 447.5,432.4C448.4,441.5 449.4,453.7 449.8,458.0" stroke="#ff0000" stroke-width="2.6"/>
<path d="M234.0,458.0C234.4,456.8 235.2,453.7 236.2,450.7C237.2,447.7 238.4,444.4 240.0,440.1C241.6,435.8 243.6,429.8 245.8,424.7C248.1,419.6 250.6,414.1 253.5,409.3C256.4,404.5 260.0,399.8 263.2,395.8C266.4,391.8 269.6,388.1 272.8,385.2C276.0,382.3 279.2,380.3 282.4,378.5C285.6,376.7 288.8,375.5 292.0,374.6C295.2,373.7 298.5,373.5 301.7,373.1C304.9,372.7 308.1,372.6 311.3,372.3C314.5,372.0 317.7,372.1 320.9,371.3C324.1,370.5 327.4,369.4 330.6,367.5C333.8,365.6 337.5,362.6 340.0,359.7C342.5,356.8 343.9,353.6 345.8,350.1C347.7,346.6 349.4,342.8 351.6,338.6C353.9,334.4 356.4,329.8 359.3,325.1C362.2,320.4 365.7,314.8 368.9,310.6C372.1,306.4 375.3,302.9 378.5,300.0C381.7,297.1 385.0,295.3 388.2,293.3C391.4,291.3 395.5,289.3 397.8,288.1C400.1,286.9 401.3,286.5 402.0,286.2" stroke="#00ffff" stroke-width="2" stroke-dasharray="7 4 2 4"/>
<path d="M402.0,286.2C403.2,287.2 406.8,289.8 409.3,292.3C411.8,294.8 414.4,297.5 417.0,301.0C419.6,304.5 422.3,309.2 424.7,313.5C427.1,317.8 429.6,322.5 431.5,327.0C433.4,331.5 434.9,335.7 436.3,340.5C437.8,345.3 439.2,351.0 440.2,355.9C441.2,360.8 441.2,362.1 442.1,370.0C443.0,377.9 444.5,393.1 445.5,403.5C446.5,413.9 447.5,423.3 448.3,432.4C449.1,441.5 450.1,453.7 450.5,458.0" stroke="#00ffff" stroke-width="2" stroke-dasharray="7 4 2 4"/>
<path d="M221.0,352.0C223.2,352.1 230.5,351.8 234.3,352.4C238.1,353.0 240.7,354.3 243.9,355.9C247.1,357.4 250.9,360.0 253.5,361.7C256.1,363.4 256.7,363.5 259.3,366.0C261.9,368.5 266.0,372.6 268.9,376.6C271.8,380.6 274.4,384.9 276.6,390.0C278.9,395.1 280.8,401.0 282.4,407.4C284.0,413.8 285.2,420.2 286.3,428.6C287.4,437.0 288.4,453.1 288.8,458.0" stroke="#800080" stroke-width="1.85" stroke-dasharray="6.5 7"/>
<path d="M293.4,458.0C293.8,453.1 294.8,436.4 295.9,428.6C296.9,420.8 298.1,416.7 299.7,411.2C301.3,405.7 303.2,400.3 305.5,395.8C307.8,391.3 310.3,387.7 313.2,384.3C316.1,380.9 320.0,378.2 322.9,375.6C325.8,373.0 327.8,371.1 330.6,368.5C333.5,365.9 337.5,362.8 340.0,359.7C342.5,356.6 343.9,353.6 345.8,350.1C347.7,346.6 349.4,342.8 351.6,338.6C353.9,334.4 356.4,329.8 359.3,325.1C362.2,320.4 365.7,314.8 368.9,310.6C372.1,306.4 375.3,302.9 378.5,300.0C381.7,297.1 385.0,295.3 388.2,293.3C391.4,291.3 395.5,289.3 397.8,288.1C400.1,286.9 401.3,286.5 402.0,286.2" stroke="#800080" stroke-width="1.85" stroke-dasharray="6.5 7"/>
<path d="M402.0,286.2C403.2,287.2 406.8,289.8 409.3,292.3C411.8,294.8 414.4,297.5 417.0,301.0C419.6,304.5 422.3,309.2 424.7,313.5C427.1,317.8 429.6,322.5 431.5,327.0C433.4,331.5 434.9,335.7 436.3,340.5C437.8,345.3 439.2,351.0 440.2,355.9C441.2,360.8 441.2,362.1 442.1,370.0C443.0,377.9 444.5,393.1 445.5,403.5C446.5,413.9 447.5,423.3 448.3,432.4C449.1,441.5 450.1,453.7 450.5,458.0" stroke="#800080" stroke-width="1.85" stroke-dasharray="6.5 7"/>
<path d="M221.0,458.0C221.1,448.9 221.2,417.2 221.5,403.5C221.8,389.8 222.1,384.4 222.5,376.0C222.9,367.6 223.4,359.9 224.2,353.0C225.0,346.1 226.3,340.0 227.5,334.7C228.7,329.4 229.8,325.7 231.4,321.2C233.0,316.7 235.1,311.5 237.2,307.7C239.3,303.9 241.2,301.0 243.9,298.1C246.6,295.2 250.3,292.3 253.5,290.4C256.7,288.5 260.0,287.6 263.2,286.9C266.4,286.2 269.6,286.0 272.8,286.0C276.0,286.0 279.2,286.2 282.4,286.9C285.6,287.6 289.1,289.0 292.0,290.4C294.9,291.8 297.9,293.4 300.0,295.2C302.1,297.0 303.3,299.5 304.9,301.4C306.5,303.3 308.1,304.8 309.7,306.8C311.3,308.8 313.0,311.1 314.6,313.6C316.2,316.1 317.9,318.6 319.5,321.6C321.1,324.6 322.9,328.8 324.3,331.8C325.7,334.8 326.6,336.4 328.0,339.6C329.4,342.8 331.1,346.7 332.5,351.0C333.9,355.3 335.1,358.0 336.3,365.5C337.6,373.0 339.1,386.2 340.0,395.8C340.9,405.4 341.3,412.4 341.9,422.8C342.5,433.2 343.3,452.1 343.6,458.0" stroke="#00ff00" stroke-width="2.3" stroke-dasharray="2.4 5.6" stroke-linecap="round"/>
<path d="M344.7,458.0C344.9,452.1 345.3,433.2 345.8,422.8C346.3,412.4 346.9,403.8 347.7,395.8C348.5,387.8 349.6,380.6 350.6,374.6C351.6,368.6 352.1,364.8 353.5,359.7C354.9,354.6 357.1,349.8 359.3,344.3C361.6,338.9 364.4,331.8 367.0,327.0C369.6,322.2 372.8,318.0 374.7,315.4C376.6,312.8 376.2,313.4 378.5,311.6C380.8,309.9 385.0,307.0 388.2,304.9C391.4,302.8 395.5,300.4 397.8,299.1C400.1,297.8 401.3,297.4 402.0,297.1" stroke="#00ff00" stroke-width="2.3" stroke-dasharray="2.4 5.6" stroke-linecap="round"/>
<path d="M402.0,297.1C403.2,298.2 406.8,301.3 409.3,303.9C411.8,306.5 414.4,309.4 417.0,312.6C419.6,315.8 422.3,319.2 424.7,323.2C427.1,327.2 429.6,332.1 431.5,336.6C433.4,341.1 435.0,345.9 436.3,350.1C437.6,354.3 438.5,358.4 439.2,361.7C439.9,365.0 439.6,363.0 440.5,370.0C441.4,377.0 443.3,393.1 444.5,403.5C445.7,413.9 446.6,423.3 447.5,432.4C448.4,441.5 449.4,453.7 449.8,458.0" stroke="#00ff00" stroke-width="2.3" stroke-dasharray="2.4 5.6" stroke-linecap="round"/>
<path d="M222.7,458.0C223.0,452.1 223.8,433.5 224.6,422.8C225.4,412.1 226.5,401.9 227.5,393.9C228.5,385.9 229.5,379.4 230.4,374.6C231.3,369.8 232.0,368.1 232.7,365.0C233.3,361.9 233.2,360.3 234.3,355.9C235.4,351.5 237.2,344.4 239.1,338.6C241.0,332.8 243.4,326.4 245.8,321.2C248.2,316.0 250.6,311.9 253.5,307.7C256.4,303.5 259.7,299.4 263.2,296.2C266.7,293.0 270.8,290.2 274.7,288.5C278.6,286.8 282.4,286.1 286.3,286.0C290.2,285.9 294.0,286.3 297.8,288.0C301.6,289.7 305.9,292.8 309.4,296.0C312.9,299.2 315.8,302.6 319.0,307.0C322.2,311.4 325.4,317.1 328.6,322.3C331.8,327.5 335.1,332.3 338.3,338.0C341.5,343.7 345.0,351.6 347.7,356.5C350.4,361.4 352.5,363.7 354.4,367.4C356.3,371.1 357.5,374.1 359.3,378.5C361.1,382.9 363.2,388.4 365.0,393.9C366.8,399.3 368.6,405.1 369.9,411.2C371.2,417.3 371.8,422.7 372.7,430.5C373.6,438.3 374.6,453.4 375.0,458.0" stroke="#ff8000" stroke-width="1.25"/>
<path d="M377.7,458.0C378.0,454.1 378.7,441.4 379.5,434.3C380.3,427.2 381.1,421.2 382.4,415.1C383.7,409.0 385.3,403.0 387.2,397.7C389.1,392.4 391.4,387.1 393.9,383.3C396.4,379.5 400.6,376.1 402.0,374.6" stroke="#ff8000" stroke-width="1.25"/>
<path d="M402.0,374.6C403.6,375.5 408.2,377.6 411.3,380.2C414.4,382.8 418.0,386.6 420.9,390.0C423.8,393.4 426.2,396.5 428.6,400.8C431.0,405.1 433.4,410.4 435.3,416.0C437.2,421.6 438.6,427.3 439.9,434.3C441.1,441.3 442.3,454.1 442.8,458.0" stroke="#ff8000" stroke-width="1.25"/>
</g>
<text transform="translate(214.1,288.6)" font-size="11" text-anchor="end">0,010</text>
<text transform="translate(214.1,332.9)" font-size="11" text-anchor="end">0,005</text>
<text transform="translate(214.1,378.1)" font-size="11" text-anchor="end">0,000</text>
<text transform="translate(214.1,423.4)" font-size="11" text-anchor="end">-0,005</text>
<text transform="translate(214.1,448.8)" font-size="11" text-anchor="end">-0,070</text>
<text transform="translate(220.4,471.0)" font-size="11" text-anchor="middle">0</text>
<text transform="translate(275.9,471.0)" font-size="11" text-anchor="middle">10</text>
<text transform="translate(331.4,471.0)" font-size="11" text-anchor="middle">20</text>
<text transform="translate(386.9,471.0)" font-size="11" text-anchor="middle">30</text>
<text transform="translate(442.4,471.0)" font-size="11" text-anchor="middle">40</text>
<text transform="translate(475.4,289.6)" font-size="11">1</text>
<text transform="translate(475.4,326.0)" font-size="11">0,1</text>
<text transform="translate(475.4,362.4)" font-size="11">0,01</text>
<text transform="translate(475.4,398.8)" font-size="11">1E-3</text>
<text transform="translate(475.4,435.2)" font-size="11">1E-4</text>
<text transform="translate(448.5,306.0)" font-size="22">c</text>
<text transform="translate(281.6,489.2)" font-size="16.4">Fiber radius, <tspan font-family="'Liberation Serif',serif" font-weight="normal" font-size="18">μ</tspan>m</text>
<text transform="translate(165.9,382.0) rotate(-90) scale(1.100,1)" font-size="18"><tspan font-weight="normal">Δ</tspan>n</text>
<text transform="translate(521.6,369.7) rotate(-90)" font-size="16.3" text-anchor="middle">Electric field intensity</text>
</svg></body></html>
